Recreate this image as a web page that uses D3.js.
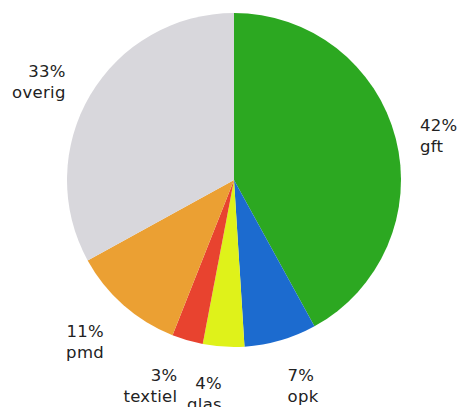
<!DOCTYPE html>
<html>
<head>
<meta charset="utf-8">
<script src="https://cdn.jsdelivr.net/npm/d3@7"></script>
<style>
  body { margin: 0; background: #fff; }
  svg { display: block; }
</style>
</head>
<body>
<script>
// afvalfracties
var labels = ['gft', 'opk', 'glas', 'textiel', 'pmd', 'overig'];
var values = [42, 7, 4, 3, 11, 33];
var colors = ['#2ca821', '#1c6bcf', '#dff21a', '#e8432f', '#eba033', '#d8d7dc'];

var width = 464, height = 407,
    cx = 234, cy = 180,
    radius = 167, labelRadius = 192;

var data = labels.map(function(d, i) { return {label: d, value: values[i], color: colors[i]}; });

var svg = d3.select('body')
  .append('svg')
  .attr('width', width)
  .attr('height', height);

var g = svg.append('g')
  .attr('transform', 'translate(' + cx + ',' + cy + ')');

var pie = d3.pie()
  .sort(null)
  .value(function(d) { return d.value; });

var arc = d3.arc()
  .innerRadius(0)
  .outerRadius(radius);

var arcs = pie(data);

g.selectAll('path')
  .data(arcs)
  .enter()
  .append('path')
  .attr('d', arc)
  .attr('fill', function(d) { return d.data.color; });

var total = d3.sum(values);

var lbl = g.selectAll('text')
  .data(arcs)
  .enter()
  .append('text')
  .style('font-family', '"DejaVu Sans", Verdana, sans-serif')
  .style('font-size', '16.5px')
  .style('letter-spacing', '0.3px')
  .attr('fill', '#222')
  .attr('text-anchor', function(d) {
    var a = (d.startAngle + d.endAngle) / 2;
    return Math.sin(a) > 0.05 ? 'start' : 'end';
  })
  .attr('transform', function(d) {
    var a = (d.startAngle + d.endAngle) / 2;
    var x = Math.sin(a) * labelRadius - (Math.sin(a) < -0.2 ? 3 : 0);
    var y = -Math.cos(a) * labelRadius - Math.cos(a) * 15 + 2;
    return 'translate(' + x + ',' + y + ')';
  });

lbl.append('tspan')
  .attr('x', 0)
  .attr('y', 0)
  .text(function(d) { return Math.round(d.data.value / total * 100) + '%'; });

lbl.append('tspan')
  .attr('x', 0)
  .attr('y', 21)
  .text(function(d) { return d.data.label; });
</script>
</body>
</html>
